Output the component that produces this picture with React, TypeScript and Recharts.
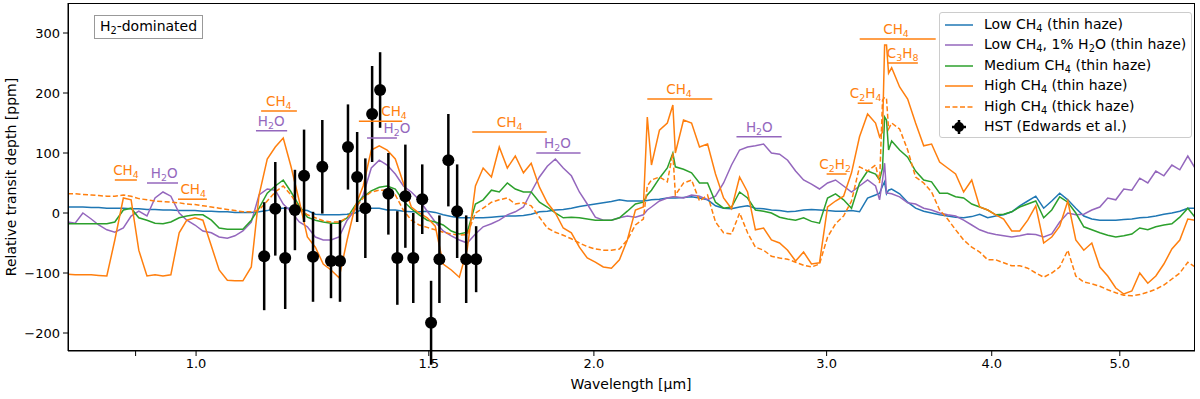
import {
  ComposedChart, Line, Scatter, ErrorBar, XAxis, YAxis,
  ReferenceLine, ReferenceDot,
} from 'recharts';

const BLUE = '#1f77b4';
const PURPLE = '#9467bd';
const GREEN = '#2ca02c';
const ORANGE = '#ff7f0e';
const FONT = '"DejaVu Sans", sans-serif';

// wavelength grid [um]
const wavelength = [
  0.800, 0.810, 0.821, 0.833, 0.844, 0.856, 0.868, 0.881, 0.893, 0.905,
  0.918, 0.931, 0.944, 0.957, 0.971, 0.984, 0.998, 1.012, 1.027, 1.041,
  1.056, 1.070, 1.085, 1.101, 1.116, 1.132, 1.148, 1.164, 1.180, 1.197,
  1.214, 1.231, 1.248, 1.265, 1.283, 1.301, 1.319, 1.338, 1.357, 1.376,
  1.395, 1.415, 1.435, 1.455, 1.475, 1.496, 1.517, 1.538, 1.560, 1.582,
  1.604, 1.627, 1.649, 1.673, 1.696, 1.720, 1.744, 1.769, 1.793, 1.819,
  1.844, 1.870, 1.896, 1.923, 1.950, 1.977, 2.005, 2.033, 2.062, 2.091,
  2.120, 2.150, 2.180, 2.195, 2.211, 2.242, 2.273, 2.295, 2.305, 2.338, 2.371, 2.404,
  2.438, 2.472, 2.507, 2.542, 2.578, 2.614, 2.650, 2.688, 2.725, 2.764,
  2.803, 2.842, 2.882, 2.922, 2.963, 3.005, 3.047, 3.090, 3.133, 3.177,
  3.222, 3.267, 3.290, 3.307, 3.319, 3.330, 3.342, 3.360, 3.407, 3.455,
  3.503, 3.553, 3.602, 3.653, 3.704, 3.756, 3.809, 3.863, 3.917, 3.972,
  4.028, 4.084, 4.142, 4.200, 4.259, 4.319, 4.379, 4.441, 4.503, 4.567,
  4.631, 4.696, 4.762, 4.829, 4.896, 4.965, 5.035, 5.106, 5.177, 5.250,
  5.324, 5.399, 5.475, 5.551, 5.629, 5.700,
];

const lowCh4 = [
  10, 10, 10, 9, 9, 8, 8, 8, 7, 7,
  6, 6, 5, 5, 4, 4, 4, 3, 3, 2,
  2, 1, 1, 1, 2, 4, 8, 8, 8, 6,
  4, -2, -3, -3, -3, -2, 0, 7, 8, 8,
  5, 5, 3, 2, 2, 3, 1, -3, -6, -8,
  -8, -8, -8, -7, -6, -5, -5, -4, -2, 2,
  3, 5, 6, 8, 11, 13, 15, 17, 19, 22,
  20, 20, 20, 21, 22, 23, 25, 25, 25, 26, 27, 25,
  22, 12, 8, 7, 10, 12, 8, 7, 5, 4,
  2, 3, 5, 6, 5, 4, 3, 3, 4, 2,
  25, 30, 33, 45, 52, 32, 38, 40, 32, 18,
  8, 3, 0, -3, -5, -7, -8, -6, -2, -8,
  -5, -3, 2, 12, 20, 28, 8, 20, 33, 22,
  8, -5, -10, -12, -12, -12, -11, -10, -8, -7,
  -5, -2, 0, 3, 8, 8,
];

const lowCh4Water = [
  -15, -17, 0, -10, -20, -28, -32, -25, -5, 3,
  -5, 25, 35, 28, 0, -12, -20, -30, -33, -40,
  -42, -38, -30, -15, 30, 40, 38, 15, 2, -15,
  -23, -40, -45, -45, -40, -12, 5, 30, 75, 88,
  80, 65, 45, 35, 22, 3, -15, -30, -38, -45,
  -50, -35, -23, -18, -12, -3, 2, 10, 35, 60,
  78, 90, 75, 62, 35, 15, -7, -12, -12, -8,
  -5, -7, -3, 5, 10, 20, 25, 27, 27, 25, 30, 28,
  22, 28, 50, 80, 105, 110, 112, 115, 100, 98,
  88, 70, 55, 48, 40, 50, 55, 45, 35, 45,
  55, 45, 22, 55, 83, 33, 33, 32, 27, 17,
  15, 8, 5, 0, -3, -5, -12, -20, -28, -33,
  -36, -38, -40, -38, -35, -36, -40, -35, -15, 0,
  -3, -2, 5, 10, 25, 22, 40, 38, 58, 50,
  70, 62, 80, 72, 95, 75,
];

const mediumCh4 = [
  -18, -18, -18, -18, -18, -18, -15, 5, 8, -8,
  -12, -17, -18, -15, -8, -5, -3, -3, -12, -25,
  -27, -27, -27, -12, 8, 33, 45, 55, 35, 12,
  -7, -12, -15, -17, -17, -8, 12, 27, 37, 43,
  45, 40, 20, 7, -3, -12, -15, -20, -30, -35,
  -32, 15, 22, 38, 35, 50, 40, 35, 35, 18,
  10, 0, -8, -7, -8, -10, -12, -12, -12, -8,
  3, 15, 18, 30, 38, 58, 75, 100, 77, 73, 67, 50,
  50, 18, 8, 10, 35, 25, 5, 3, 0, -7,
  -10, -12, -8, -14, -17, 25, 32, 22, 8, 50,
  70, 65, 55, 75, 160, 155, 105, 120, 105, 93,
  70, 55, 52, 33, 33, 27, 25, 15, 10, 5,
  -3, -2, 2, 10, 15, 20, -8, 5, 27, 18,
  0, -23, -28, -33, -37, -40, -38, -35, -25, -28,
  -23, -20, -18, -7, 8, -7,
];

const highCh4 = [
  -102, -103, -103, -103, -104, -105, -45, 25, 22, -62,
  -105, -103, -105, -103, -33, -12, -8, -12, -55, -95,
  -112, -113, -113, -90, 30, 90, 110, 125, 77, 20,
  -40, -57, -85, -95, -108, -45, 10, 45, 105, 112,
  105, 90, 50, 10, 0, -8, -22, -85, -95, -107,
  -60, 45, 75, 60, 110, 75, 95, 67, 83, 43,
  17, 0, -25, -33, -57, -75, -82, -90, -92, -78,
  -45, 5, 10, 160, 80, 138, 150, 180, 100, 155, 150, 110,
  115, 65, 25, 7, 60, 35, -28, -25, -45, -50,
  -62, -80, -65, -85, -83, 10, 20, 28, 67, 127,
  165, 150, 127, 135, 280, 280, 233, 242, 210, 190,
  150, 112, 115, 85, 75, 65, 35, 55, 10, 5,
  -3, -10, -30, -30, -12, 12, -50, -40, -22, 20,
  -45, -62, -50, -90, -105, -125, -135, -130, -100, -117,
  -105, -85, -60, -45, -10, -12,
];

const highCh4ThickHaze = [
  32, 32, 31, 30, 29, 28, 28, 30, 28, 24,
  22, 20, 19, 18, 17, 15, 14, 12, 10, 8,
  6, 4, 2, 2, 5, 20, 35, 45, 30, 8,
  -3, -8, -13, -15, -15, -8, 8, 25, 35, 38,
  38, 30, 5, -12, -20, -24, -28, -32, -35, -37,
  -36, 0, 8, 18, 22, 25, 15, 17, 12, -7,
  -25, -32, -37, -43, -50, -56, -60, -62, -62, -60,
  -45, -20, -10, 45, 55, 60, 52, 100, 30, 50, 55, 20,
  30, -15, -33, -35, 0, -33, -57, -62, -72, -75,
  -77, -82, -87, -90, -85, -40, -18, -5, 20, 77,
  70, 80, 50, 188, 193, 190, 140, 150, 140, 105,
  60, 50, 35, 5, -10, -28, -45, -57, -65, -78,
  -78, -83, -88, -88, -92, -100, -107, -100, -90, -62,
  -105, -115, -118, -122, -128, -133, -137, -138, -136, -132,
  -127, -120, -110, -100, -82, -90,
];

// HST WFC3 points (Edwards et al.)
const hstWavelength = [
  1.126, 1.148, 1.168, 1.188, 1.207, 1.226, 1.246, 1.265, 1.285, 1.303,
  1.324, 1.343, 1.359, 1.378, 1.398, 1.420, 1.440, 1.460, 1.483, 1.506,
  1.528, 1.552, 1.576, 1.601, 1.629,
];
const hstDepth = [
  -72, 7, -75, 5, 62, -73, 77, -80, -80, 110,
  60, 8, 165, 205, 32, -75, 28, -75, 23, -183,
  -77, 88, 3, -77, -77,
];
const hstError = [
  90, 78, 85, 67, 77, 75, 78, 62, 68, 71,
  75, 83, 80, 63, 68, 78, 86, 75, 58, 70,
  73, 77, 78, 73, 55,
];

// molecule band markers
const bandLabels = ['CH₄', 'H₂O', 'CH₄', 'CH₄', 'H₂O', 'CH₄', 'H₂O', 'CH₄', 'H₂O', 'CH₄', 'H₂O', 'C₂H₂', 'C₂H₄', 'CH₄', 'C₃H₈'];
const bandColors = [ORANGE, PURPLE, ORANGE, ORANGE, PURPLE, ORANGE, PURPLE, ORANGE, PURPLE, ORANGE, PURPLE, ORANGE, ORANGE, ORANGE, ORANGE];
const bandStart = [0.868, 0.918, 0.969, 1.120, 1.110, 1.328, 1.347, 1.618, 1.809, 2.195, 2.564, 3.000, 3.167, 3.178, 3.338];
const bandEnd = [0.902, 0.969, 1.019, 1.192, 1.172, 1.432, 1.419, 1.842, 1.954, 2.458, 2.774, 3.106, 3.251, 3.628, 3.517];
const bandLevel = [55, 50, 23, 170, 137, 153, 125, 135, 100, 190, 127, 65, 183, 290, 250];
const bandTextAt = [0.885, 0.946, 0.995, 1.155, 1.140, 1.412, 1.419, 1.727, 1.877, 2.320, 2.668, 3.045, 3.211, 3.386, 3.425];

const xTicks = [0.9, 1.0, 1.5, 2.0, 3.0, 4.0, 5.0];
const yTicks = [-200, -100, 0, 100, 200, 300];

const rows = wavelength.map((wl, i) => ({
  wl,
  low: lowCh4[i],
  lowWater: lowCh4Water[i],
  medium: mediumCh4[i],
  high: highCh4[i],
  highThick: highCh4ThickHaze[i],
}));

const hstRows = hstWavelength.map((wl, i) => ({ wl, depth: hstDepth[i], err: hstError[i] }));

const legendItems = [
  { label: 'Low CH₄ (thin haze)', color: BLUE, dash: undefined },
  { label: 'Low CH₄, 1% H₂O (thin haze)', color: PURPLE, dash: undefined },
  { label: 'Medium CH₄ (thin haze)', color: GREEN, dash: undefined },
  { label: 'High CH₄ (thin haze)', color: ORANGE, dash: undefined },
  { label: 'High CH₄ (thick haze)', color: ORANGE, dash: '5 2.5' },
  { label: 'HST (Edwards et al.)', color: '#000', dash: 'hst' },
];

// split "CH₄" into normal / subscript runs
const SUBS = '₀₁₂₃₄₅₆₇₈₉';
const splitChem = (s: string) => {
  const parts: { t: string; sub: boolean }[] = [];
  for (const ch of s) {
    const k = SUBS.indexOf(ch);
    const sub = k >= 0;
    const t = sub ? String(k) : ch;
    const last = parts[parts.length - 1];
    if (last && last.sub === sub) last.t += t;
    else parts.push({ t, sub });
  }
  return parts;
};

const ChemHtml = ({ text }: { text: string }) => (
  <>
    {splitChem(text).map((p, i) =>
      p.sub
        ? <span key={i} style={{ fontSize: '0.7em', position: 'relative', top: '0.3em' }}>{p.t}</span>
        : <span key={i}>{p.t}</span>)}
  </>
);

const chemSvg = (text: string, size: number) => {
  const shift = size * 0.22;
  let down = false;
  return splitChem(text).map((p, i) => {
    let dy = 0;
    if (p.sub && !down) { dy = shift; down = true; }
    else if (!p.sub && down) { dy = -shift; down = false; }
    return (
      <tspan key={i} dy={dy} fontSize={p.sub ? size * 0.7 : size}>{p.t}</tspan>
    );
  });
};

const Legend = () => (
  <div style={{
    position: 'absolute', left: 939, top: 12, width: 253, height: 126,
    border: '1px solid #cccccc', borderRadius: 3, background: 'rgba(255,255,255,0.8)',
    boxSizing: 'border-box', fontFamily: FONT, fontSize: 14,
  }}>
    {legendItems.map((item, i) => (
      <div key={i} style={{ position: 'absolute', left: 0, top: 3 + i * 20.4, height: 18, width: '100%' }}>
        <svg width={30} height={18} style={{ position: 'absolute', left: 4, top: 0 }}>
          {item.dash === 'hst' ? (
            <g>
              <line x1={15} x2={15} y1={2} y2={16} stroke="#000" strokeWidth={2.5} />
              <line x1={8} x2={22} y1={9} y2={9} stroke="#000" strokeWidth={2.5} />
              <circle cx={15} cy={9} r={5} fill="#000" />
            </g>
          ) : (
            <line x1={1} x2={29} y1={9} y2={9} stroke={item.color} strokeWidth={1.5} strokeDasharray={item.dash} />
          )}
        </svg>
        <span style={{ position: 'absolute', left: 44, top: -1, lineHeight: '18px', whiteSpace: 'nowrap' }}>
          <ChemHtml text={item.label} />
        </span>
      </div>
    ))}
  </div>
);

const fmtX = (v: number) => (v < 0.95 ? '' : v.toFixed(1));
const fmtY = (v: number) => (v < 0 ? '\u2212' + Math.abs(v) : String(v));

export default function App() {
  return (
    <div style={{ position: 'absolute', left: 0, top: 0, width: 1200, height: 399, background: '#fff' }}>
      <ComposedChart width={1200} height={399} data={rows} margin={{ top: 3, right: 5, bottom: 0, left: 0 }}>
        <XAxis
          dataKey="wl" type="number" scale="log" domain={[0.8, 5.7]} allowDataOverflow
          ticks={xTicks} interval={0} tickFormatter={fmtX} height={48}
          tickSize={5} tickMargin={3} axisLine={{ stroke: '#000' }} tickLine={{ stroke: '#000' }}
          tick={{ fontSize: 13, fill: '#000', fontFamily: FONT }}
        />
        <YAxis
          type="number" domain={[-230, 350]} allowDataOverflow ticks={yTicks} interval={0}
          tickFormatter={fmtY} width={68} tickSize={5} tickMargin={3}
          axisLine={{ stroke: '#000' }} tickLine={{ stroke: '#000' }}
          tick={{ fontSize: 13, fill: '#000', fontFamily: FONT }}
        />
        <Line dataKey="low" stroke={BLUE} strokeWidth={1.5} dot={false} activeDot={false} isAnimationActive={false} />
        <Line dataKey="lowWater" stroke={PURPLE} strokeWidth={1.5} dot={false} activeDot={false} isAnimationActive={false} />
        <Line dataKey="medium" stroke={GREEN} strokeWidth={1.5} dot={false} activeDot={false} isAnimationActive={false} />
        <Line dataKey="high" stroke={ORANGE} strokeWidth={1.5} dot={false} activeDot={false} isAnimationActive={false} />
        <Line dataKey="highThick" stroke={ORANGE} strokeWidth={1.5} strokeDasharray="5 2.5" dot={false} activeDot={false} isAnimationActive={false} />
        <Scatter
          data={hstRows} dataKey="depth" fill="#000" isAnimationActive={false}
          shape={(p: any) => <circle cx={p.cx} cy={p.cy} r={6} fill="#000" />}
        >
          <ErrorBar dataKey="err" direction="y" width={0} stroke="#000" strokeWidth={2.5} />
        </Scatter>
        {bandLabels.map((label, i) => (
          <ReferenceLine
            key={'l' + i}
            segment={[{ x: bandStart[i], y: bandLevel[i] }, { x: bandEnd[i], y: bandLevel[i] }]}
            stroke={bandColors[i]} strokeWidth={1.5}
          />
        ))}
        {bandLabels.map((label, i) => (
          <ReferenceDot
            key={'t' + i} x={bandTextAt[i]} y={bandLevel[i]} r={0}
            shape={(p: any) => (
              <text x={p.cx} y={p.cy - 5} textAnchor="middle" fontSize={13.5} fontFamily={FONT} fill={bandColors[i]}>
                {chemSvg(label, 13.5)}
              </text>
            )}
          />
        ))}
      </ComposedChart>

      {/* frame */}
      <div style={{ position: 'absolute', left: 68, top: 3, width: 1127, height: 348, border: '1px solid #000', boxSizing: 'border-box', pointerEvents: 'none' }} />

      <div style={{
        position: 'absolute', left: 94, top: 15, width: 109, height: 24, border: '1px solid #999',
        boxSizing: 'border-box', fontFamily: FONT, fontSize: 14, lineHeight: '21px', textAlign: 'center', background: '#fff',
      }}>
        <ChemHtml text="H₂-dominated" />
      </div>

      <Legend />

      <div style={{
        position: 'absolute', left: 11, top: 177, transform: 'translate(-50%, -50%) rotate(-90deg)',
        whiteSpace: 'nowrap', fontFamily: FONT, fontSize: 14,
      }}>
        Relative transit depth [ppm]
      </div>
      <div style={{
        position: 'absolute', left: 631, top: 384, transform: 'translate(-50%, -50%)',
        whiteSpace: 'nowrap', fontFamily: FONT, fontSize: 14,
      }}>
        Wavelength [μm]
      </div>
    </div>
  );
}
